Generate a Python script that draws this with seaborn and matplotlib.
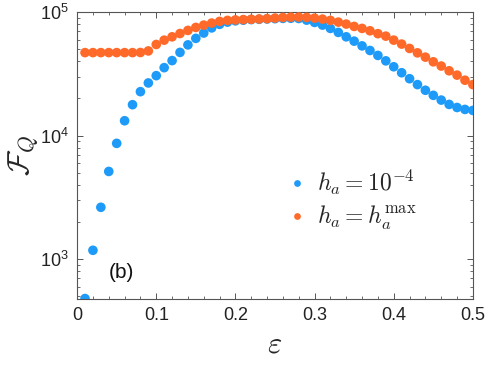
import numpy as np
import pandas as pd
import matplotlib
matplotlib.use("Agg")
import matplotlib.pyplot as plt
import seaborn as sns
from matplotlib.ticker import MultipleLocator, LogLocator, NullFormatter

eps = [round(0.01 * i, 2) for i in range(1, 51)]

fq_small = [480, 1180, 2630, 5130, 8660, 13200, 17800, 22700, 26700, 30600,
            35500, 40500, 47200, 54300, 61300, 67700, 74500, 79600, 83000, 85000,
            86000, 87000, 87500, 88000, 88500, 89000, 89200, 88800, 86100, 82500,
            78500, 73800, 68500, 63100, 58200, 53300, 48900, 44600, 40300, 36100,
            32300, 28900, 25900, 23300, 21200, 19400, 17900, 16900, 16300, 16000]

fq_max = [47000, 47000, 47000, 47000, 47000, 47000, 47000, 47100, 48500, 54700,
          59300, 63100, 67100, 71100, 75200, 78500, 81500, 84100, 85700, 86500,
          87000, 87500, 88000, 88500, 89500, 90500, 91000, 91200, 90600, 89400,
          87800, 85700, 83000, 80000, 76600, 73800, 70600, 66900, 63900, 59300,
          55100, 50800, 46800, 43200, 39600, 36600, 33500, 30900, 28100, 25900]

labels = [r"$h_a = 10^{-4}$", r"$h_a = h_a^{\max}$"]
colors = ["#1e9bf8", "#ff6a2a"]

df = pd.DataFrame({
    "eps": eps * 2,
    "fq": fq_small + fq_max,
    "series": [labels[0]] * len(eps) + [labels[1]] * len(eps),
})

sns.set_style("ticks")
plt.rcParams["font.family"] = ["Liberation Sans", "DejaVu Sans"]
plt.rcParams["mathtext.fontset"] = "cm"

fig = plt.figure(figsize=(4.88, 3.67), dpi=100)
ax = fig.add_axes([0.158, 0.185, 0.811, 0.782])

sns.scatterplot(data=df, x="eps", y="fq", hue="series", hue_order=labels,
                palette=colors, s=48, linewidth=0, ax=ax, legend=True, zorder=3)

ax.set_yscale("log")
ax.set_xlim(0, 0.5)
ax.set_ylim(475, 1e5)
ax.xaxis.set_minor_locator(MultipleLocator(0.02))
ax.set_xticks([0, 0.1, 0.2, 0.3, 0.4, 0.5])
ax.set_xticklabels(["0", "0.1", "0.2", "0.3", "0.4", "0.5"])
ax.yaxis.set_major_locator(LogLocator(base=10, numticks=10))
ax.yaxis.set_minor_locator(LogLocator(base=10, subs=np.arange(2, 10), numticks=10))
ax.yaxis.set_minor_formatter(NullFormatter())

edge = "#555555"
for sp in ax.spines.values():
    sp.set_visible(True)
    sp.set_color(edge)
    sp.set_linewidth(0.8)
ax.tick_params(which="both", direction="in", top=True, right=True,
               color=edge, labelsize=13, labelcolor="#222222")
ax.tick_params(which="major", length=4, width=0.7, pad=6)
ax.tick_params(which="minor", length=2, width=0.6)

ax.set_xlabel(r"$\varepsilon$", fontsize=22, labelpad=4)
ax.set_ylabel(r"$\mathcal{F}_Q$", fontsize=22, labelpad=0)

ax.text(0.04, 700, "(b)", fontsize=15, color="#111111")

leg = ax.legend(loc="center left", bbox_to_anchor=(0.49, 0.345), frameon=False,
                fontsize=17, markerscale=0.7, handletextpad=0.25,
                labelspacing=0.3, borderpad=0, handlelength=1.2)

fig.savefig("out.png", dpi=100)
